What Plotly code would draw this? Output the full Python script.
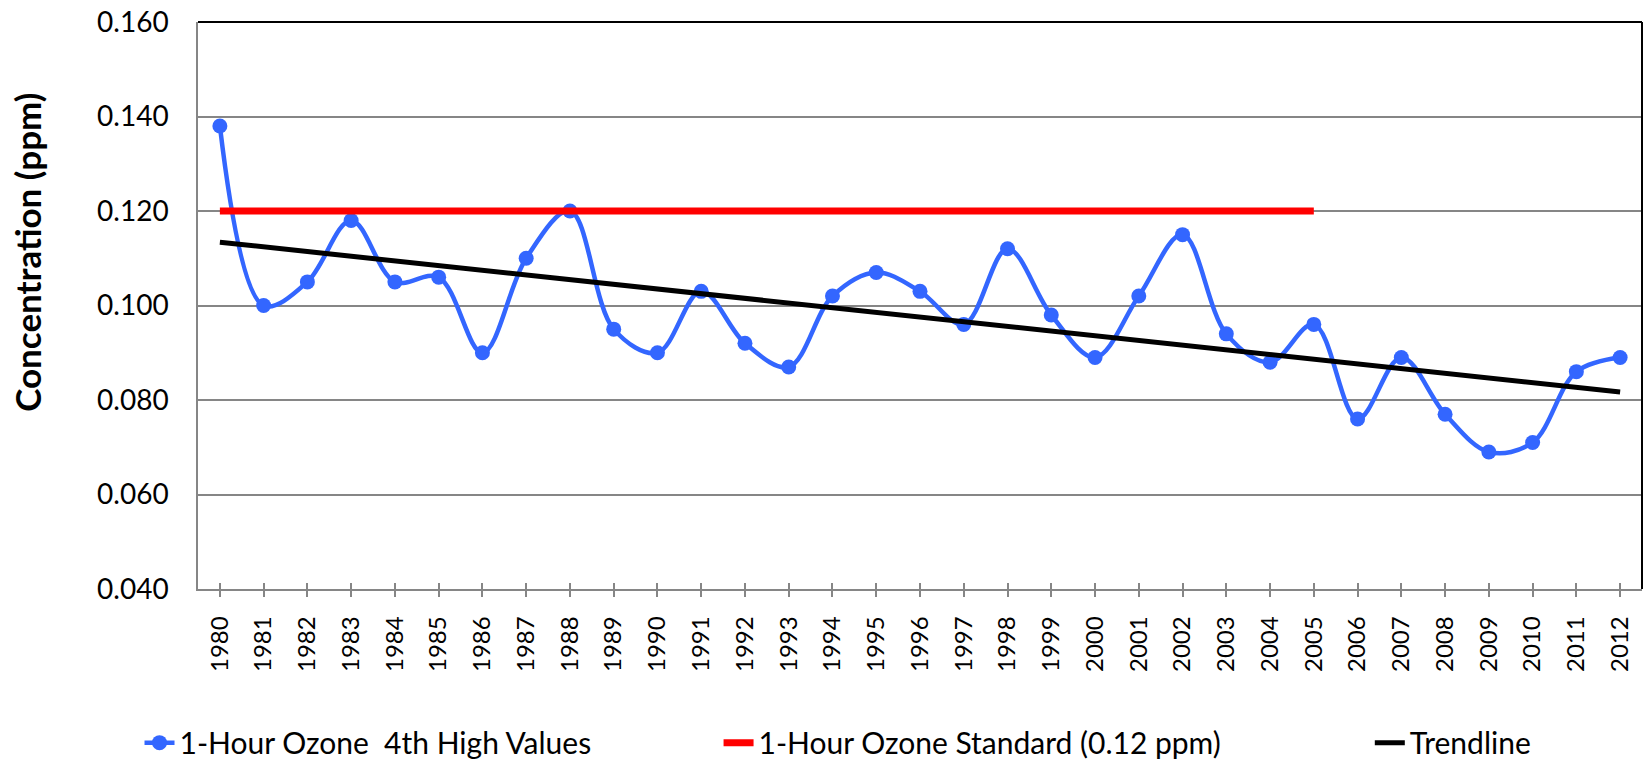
import plotly.graph_objects as go

# chart data
years = list(range(1980, 2013))
ozone_4th_high = [0.138, 0.100, 0.105, 0.118, 0.105, 0.106, 0.090, 0.110, 0.120, 0.095,
                  0.090, 0.103, 0.092, 0.087, 0.102, 0.107, 0.103, 0.096, 0.112, 0.098,
                  0.089, 0.102, 0.115, 0.094, 0.088, 0.096, 0.076, 0.089, 0.077, 0.069,
                  0.071, 0.086, 0.089]
standard_years = [1980, 2005]
standard_values = [0.120, 0.120]
trend_years = [1980, 2012]
trend_values = [0.1134, 0.0817]
y_ticks = [0.040, 0.060, 0.080, 0.100, 0.120, 0.140, 0.160]

FONT = "Lato"
GRID = "#868686"

fig = go.Figure()

fig.add_trace(go.Scatter(
    x=years, y=ozone_4th_high, mode="lines+markers",
    name="1-Hour Ozone  4th High Values",
    line=dict(color="#3366FF", width=4.5, shape="spline", smoothing=1.0),
    marker=dict(color="#3366FF", size=15),
    legend="legend"))

fig.add_trace(go.Scatter(
    x=standard_years, y=standard_values, mode="lines",
    name="1-Hour Ozone Standard (0.12 ppm)",
    line=dict(color="#FF0000", width=7),
    legend="legend2"))

fig.add_trace(go.Scatter(
    x=trend_years, y=trend_values, mode="lines",
    name="Trendline",
    line=dict(color="black", width=5),
    xaxis="x2",
    legend="legend3"))

legend_style = dict(orientation="h", yanchor="middle", y=-0.271, xanchor="left",
                    bgcolor="rgba(0,0,0,0)", font=dict(family=FONT, size=30, color="black"))

fig.update_layout(
    width=1648, height=759,
    margin=dict(l=198, r=6, t=22, b=170, autoexpand=False),
    paper_bgcolor="white", plot_bgcolor="white",
    font=dict(family=FONT, color="black"),
    showlegend=True,
    xaxis=dict(range=[1979.5, 2012.5], tickmode="linear", tick0=1980, dtick=1,
               tickformat="d", tickangle=-90, ticks="outside", ticklen=6,
               tickwidth=1.5, tickcolor=GRID, showgrid=False,
               showline=True, linecolor=GRID, linewidth=1.5, automargin=False,
               ticklabelstandoff=10, ticklabeloverflow="allow",
               tickfont=dict(family=FONT, size=24, color="black"), zeroline=False),
    xaxis2=dict(range=[1979.5, 2012.5], overlaying="x", anchor="y", tickmode="linear",
                tick0=1980, dtick=1, ticks="inside", ticklen=6, tickwidth=1.5,
                tickcolor=GRID, showticklabels=False, showgrid=False, showline=False,
                zeroline=False, side="bottom", automargin=False),
    yaxis=dict(range=[0.040, 0.160], tickvals=y_ticks, tickformat=".3f",
               showgrid=True, gridcolor=GRID, gridwidth=1.5,
               showline=True, linecolor=GRID, linewidth=1.5, zeroline=False,
               ticks="", ticklabelstandoff=22, automargin=False,
               ticklabeloverflow="allow",
               tickfont=dict(family=FONT, size=28, color="black")),
    legend=dict(x=-0.0405, **legend_style),
    legend2=dict(x=0.3605, **legend_style),
    legend3=dict(x=0.8115, **legend_style),
    annotations=[dict(text="<b>Concentration (ppm)</b>", xref="paper", yref="paper",
                      x=-0.118, y=0.594, xanchor="center", yanchor="middle",
                      textangle=-90, showarrow=False,
                      font=dict(family=FONT, size=35, color="black"))],
    shapes=[dict(type="line", xref="paper", yref="paper", x0=0, x1=1, y0=1, y1=1,
                 line=dict(color="black", width=2), layer="above"),
            dict(type="line", xref="paper", yref="paper", x0=1, x1=1, y0=0, y1=1,
                 line=dict(color="black", width=2), layer="above")],
)

# drop the default 8px body margin so the figure sits flush in the window
fig.write_html("out.html", config={"displayModeBar": False},
               post_script="document.body.style.margin = '0px';")
